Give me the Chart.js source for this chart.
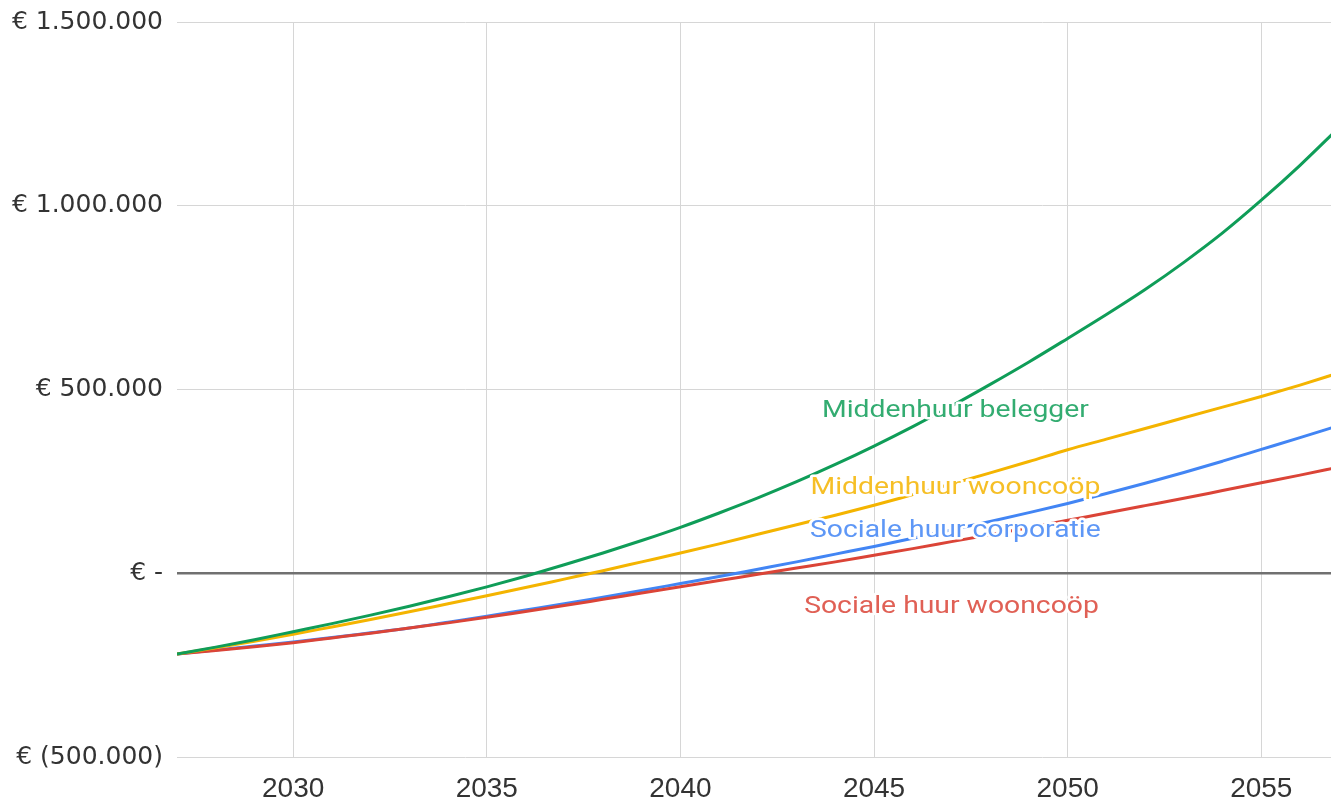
<!DOCTYPE html>
<html>
<head>
<meta charset="utf-8">
<script src="https://cdn.jsdelivr.net/npm/chart.js@4/dist/chart.umd.min.js"></script>
<style>
  html, body { margin: 0; padding: 0; background: #ffffff; }
  #wrap { position: relative; width: 1331px; height: 801px; }
</style>
</head>
<body>
<div id="wrap"><canvas id="c" width="1331" height="801"></canvas></div>
<script>
// ---- data ----
const years = [2027,2028,2029,2030,2031,2032,2033,2034,2035,2036,2037,2038,2039,2040,2041,2042,2043,2044,2045,2046,2047,2048,2049,2050,2051,2052,2053,2054,2055,2056,2057];

const middenhuurBelegger = [-220000,-201000,-181000,-159000,-137000,-114000,-90000,-64000,-37000,-8000,23000,55000,89000,125000,164000,205000,249000,296000,346000,399000,455000,514000,575000,639000,704000,772000,846000,926000,1015000,1110000,1212000];
const middenhuurWooncoop = [-220000,-203000,-185000,-166000,-146000,-126000,-105000,-83000,-61000,-39000,-16000,7000,31000,55000,80000,106000,132000,158000,185000,214000,243000,273000,304000,336000,365000,394000,423000,452000,481000,512000,545000];
const socialeHuurCorporatie = [-220000,-209000,-198000,-187000,-175000,-162000,-149000,-133000,-117000,-100000,-83000,-65000,-47000,-28000,-9000,11000,31000,52000,73000,95000,118000,141000,165000,190000,217000,245000,274000,305000,337000,369000,402000];
const socialeHuurWooncoop = [-220000,-210000,-200000,-189000,-176000,-163000,-149000,-135000,-120000,-104000,-88000,-71000,-54000,-37000,-20000,-3000,14000,31000,49000,67000,86000,105000,124000,144000,164000,184000,204000,225000,246000,267000,289000];

const seriesNames = ['Middenhuur belegger','Middenhuur wooncoöp','Sociale huur corporatie','Sociale huur wooncoöp'];
const seriesColors = ['#0F9D58','#F4B400','#4285F4','#DB4437'];

const xTickValues = [2030,2035,2040,2045,2050,2055];
const yTickValues = [-500000,0,500000,1000000,1500000];
const yTickLabels = ['€ (500.000)','€ -','€ 500.000','€ 1.000.000','€ 1.500.000'];

// in-chart series labels (anchored in data space)
const labelYears  = [2047.1, 2047.1, 2047.1, 2047.0];
const labelValues = [441000, 232000, 116000, -91000];

// ---- chart ----
function pts(vals){ return years.map((y,i)=>({x:y, y:vals[i]})); }

const labelPlugin = {
  id: 'seriesLabels',
  afterDatasetsDraw(chart){
    const ctx = chart.ctx;
    const xs = chart.scales.x, ys = chart.scales.y;
    ctx.save();
    ctx.font = '24px Roboto';
    ctx.textAlign = 'center';
    ctx.textBaseline = 'middle';
    ctx.lineJoin = 'round';
    for (let i = 0; i < seriesNames.length; i++){
      const px = xs.getPixelForValue(labelYears[i]);
      const py = ys.getPixelForValue(labelValues[i]);
      ctx.save();
      ctx.translate(px, py);
      ctx.scale(1.18, 1);
      ctx.strokeStyle = '#ffffff';
      ctx.lineWidth = 5;
      ctx.strokeText(seriesNames[i], 0, 0);
      ctx.fillStyle = seriesColors[i];
      ctx.globalAlpha = 0.85;
      ctx.fillText(seriesNames[i], 0, 0);
      ctx.restore();
    }
    ctx.restore();
  }
};

const datasetsOrder = [0,1,3,2];
const allVals = [middenhuurBelegger, middenhuurWooncoop, socialeHuurCorporatie, socialeHuurWooncoop];

new Chart(document.getElementById('c'), {
  type: 'line',
  data: {
    datasets: datasetsOrder.map(i => ({
      label: seriesNames[i],
      data: pts(allVals[i]),
      borderColor: seriesColors[i],
      backgroundColor: seriesColors[i],
      borderWidth: 3,
      pointRadius: 0,
      pointHoverRadius: 0,
      cubicInterpolationMode: 'monotone',
      fill: false
    }))
  },
  options: {
    responsive: false,
    animation: false,
    devicePixelRatio: 1,
    layout: { padding: { top: 22, right: 0, bottom: 0, left: 0 } },
    plugins: { legend: { display: false }, tooltip: { enabled: false } },
    scales: {
      x: {
        type: 'linear',
        min: 2027,
        max: 2056.8,
        afterBuildTicks(scale){ scale.ticks = xTickValues.map(v => ({value: v})); },
        afterFit(scale){ scale.height = 44; },
        border: { display: false },
        grid: { color: '#d6d6d6', lineWidth: 1, drawTicks: false },
        ticks: {
          padding: 15,
          color: '#333333',
          font: { family: 'Liberation Sans', size: 28 },
          maxRotation: 0,
          callback: v => String(v)
        }
      },
      y: {
        type: 'linear',
        min: -500000,
        max: 1500000,
        afterBuildTicks(scale){ scale.ticks = yTickValues.map(v => ({value: v})); },
        afterFit(scale){ scale.width = 177; scale.paddingTop = 0; scale.paddingBottom = 0; },
        border: { display: false },
        grid: {
          drawTicks: false,
          color: c => (c.tick && c.tick.value === 0) ? '#707070' : '#d6d6d6',
          lineWidth: c => (c.tick && c.tick.value === 0) ? 2.5 : 1
        },
        ticks: {
          padding: 14,
          color: '#333333',
          font: { family: 'DejaVu Sans', size: 25 },
          callback: v => { const k = yTickValues.indexOf(v); return k >= 0 ? yTickLabels[k] : ''; }
        }
      }
    }
  },
  plugins: [labelPlugin]
});
</script>
</body>
</html>
